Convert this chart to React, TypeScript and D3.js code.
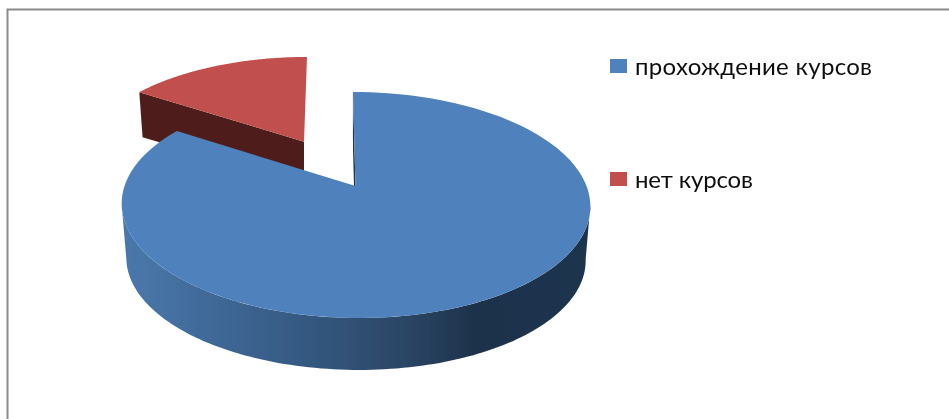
import React, { useEffect, useRef } from 'react';
import * as d3 from 'd3';

const categories = ['прохождение курсов', 'нет курсов'];
const shares = [84.2, 15.8];
const topColors = ['#4f81bd', '#c0504d'];
const cutColors = ['#1f344e', '#4f1f1c'];
const wallStops = ['#4a78ac', '#3f6897', '#345880', '#2b4666', '#1e324c', '#1e344e'];

const WIDTH = 949;
const HEIGHT = 419;

// each slice sits on its own projected disc because the big one is pulled forward
const discs = [
    { ax: 355.5, ay: 186, rx: 231, ry: 109.8, skew: 3, depth: 54.6 },
    { ax: 304, ay: 141.7, rx: 217, ry: 99, skew: -3.5, depth: 44 },
];
const TILT = 0.168;
const BOTTOM_SCALE = 0.98;
// where the rim turns away from the viewer on the left and right
const FRONT_START = Math.PI - Math.acos(TILT);
const FRONT_END = Math.PI + Math.acos(TILT);
// Lato is a little narrower than the original font, so the labels get stretched
const labelWidths = [237, 118];

type Disc = (typeof discs)[number];

const project = (disc: Disc, angle: number, radius: number, lower: boolean): [number, number] => {
    const u = Math.sin(angle) * radius;
    const v = -Math.cos(angle) * radius;
    const w = 1 - TILT * v;
    const s = lower ? BOTTOM_SCALE : 1;
    return [
        disc.ax + (s * (disc.rx * u + disc.skew * v)) / w,
        disc.ay + (lower ? disc.depth : 0) + (s * disc.ry * v) / w,
    ];
};

const sweep = (from: number, to: number) =>
    d3.range(0, 121).map((k) => d3.interpolateNumber(from, to)(k / 120));

const App: React.FC = () => {
    const svgRef = useRef<SVGSVGElement>(null);

    useEffect(() => {
        if (!svgRef.current) return;
        const svg = d3.select(svgRef.current);
        svg.selectAll('*').remove();

        const defs = svg.append('defs');
        const wallX = d3.scaleLinear().domain([0, wallStops.length - 1]).range([122, 591]);
        const grad = defs
            .append('linearGradient')
            .attr('id', 'wall')
            .attr('gradientUnits', 'userSpaceOnUse')
            .attr('x1', wallX(0))
            .attr('x2', wallX(wallStops.length - 1))
            .attr('y1', 0)
            .attr('y2', 0);
        wallStops.forEach((c, i) => {
            grad.append('stop')
                .attr('offset', i === 4 ? 0.75 : i / (wallStops.length - 1))
                .attr('stop-color', c);
        });
        defs.append('filter')
            .attr('id', 'soft')
            .append('feGaussianBlur')
            .attr('stdDeviation', 0.5);

        // frame: only the top and left edges are in the picture
        const frame = d3.line();
        svg.append('path')
            .attr('d', frame([[7.5, HEIGHT], [7.5, 9.5], [WIDTH, 9.5]]))
            .attr('fill', 'none')
            .attr('stroke', '#8a8a8a')
            .attr('stroke-width', 2);

        const arcs = d3.pie<number>().sort(null)(shares);
        const line = d3.line();
        const pieG = svg.append('g').attr('filter', 'url(#soft)');

        // red is further back, so it goes first
        [1, 0].forEach((i) => {
            const arc = arcs[i];
            const disc = discs[i];
            const rimTop = sweep(arc.startAngle, arc.endAngle).map((a) => project(disc, a, 1, false));
            const apexTop = project(disc, 0, 0, false);
            const apexBottom = project(disc, 0, 0, true);
            const g = pieG.append('g');

            // the cut face at the start of the slice
            g.append('path')
                .attr('d', line([apexTop, rimTop[0], project(disc, arc.startAngle, 1, true), apexBottom]) + 'Z')
                .attr('fill', cutColors[i]);

            // outer wall, only the part of the rim that faces the viewer
            const from = Math.max(arc.startAngle, FRONT_START);
            const to = Math.min(arc.endAngle, FRONT_END);
            if (from < to) {
                const front = sweep(from, to);
                const upper = front.map((a) => project(disc, a, 1, false));
                const lower = front.map((a) => project(disc, a, 1, true));
                g.append('path')
                    .attr('d', line([...upper, ...lower.reverse()]) + 'Z')
                    .attr('fill', 'url(#wall)');
            }

            g.append('path')
                .attr('d', line([apexTop, ...rimTop]) + 'Z')
                .attr('fill', topColors[i]);
        });

        const legendY = d3.scalePoint<string>().domain(categories).range([66, 179]);
        const legend = svg.append('g').attr('filter', 'url(#soft)');
        categories.forEach((name, i) => {
            const y = legendY(name) as number;
            legend.append('rect')
                .attr('x', 610)
                .attr('y', y - 7)
                .attr('width', 17)
                .attr('height', 14)
                .attr('fill', topColors[i]);
            legend.append('text')
                .attr('x', 635)
                .attr('y', y + 9)
                .attr('font-family', 'Lato, "Open Sans", sans-serif')
                .attr('font-size', 24)
                .attr('textLength', labelWidths[i])
                .attr('lengthAdjust', 'spacing')
                .attr('fill', '#111')
                .text(name);
        });
    }, []);

    return (
        <svg
            ref={svgRef}
            width={WIDTH}
            height={HEIGHT}
            style={{ position: 'absolute', left: 0, top: 0, background: '#fff' }}
        />
    );
};

export default App;
